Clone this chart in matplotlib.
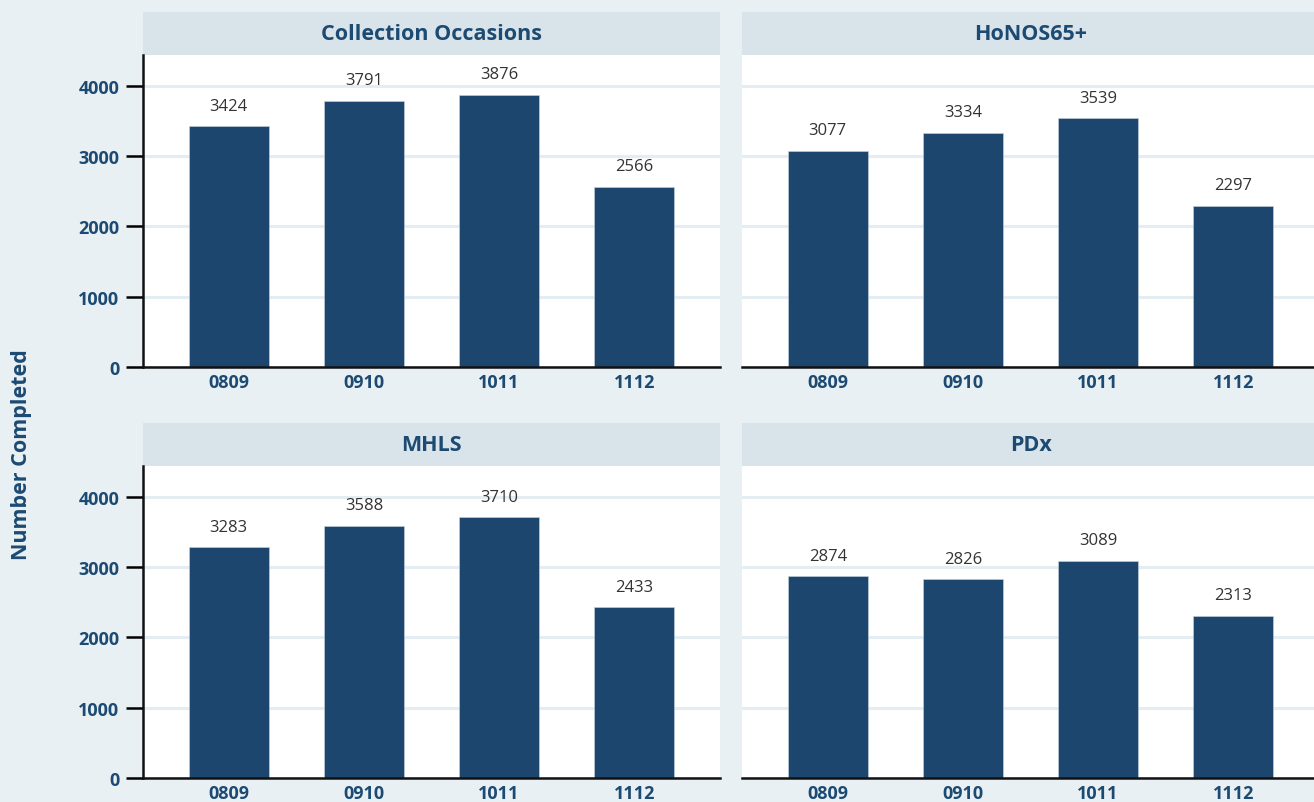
import matplotlib
matplotlib.use("Agg")
import matplotlib.pyplot as plt
from matplotlib.patches import Rectangle
import numpy as np

plt.rcParams["font.family"] = ["Open Sans", "DejaVu Sans"]

years = ["0809", "0910", "1011", "1112"]
panels = ["Collection Occasions", "HoNOS65+", "MHLS", "PDx"]
collection = [3424, 3791, 3876, 2566]
honos65 = [3077, 3334, 3539, 2297]
mhls = [3283, 3588, 3710, 2433]
pdx = [2874, 2826, 3089, 2313]
yticks = [0, 1000, 2000, 3000, 4000]

BG = "#e8f0f3"
HEAD = "#d8e4ea"
BAR = "#1c466e"
NAVY = "#1c4a72"
GRID = "#e4edf1"

fig = plt.figure(figsize=(13.14, 8.03), dpi=100, facecolor=BG)
W, H = 1314, 803

# axes boxes in pixels: left, right, top, bottom (right column runs off the edge)
boxes = [
    (143, 720, 56, 368, True),
    (742, 1319, 56, 368, False),
    (143, 720, 467, 779, True),
    (742, 1319, 467, 779, False),
]
series = [collection, honos65, mhls, pdx]

x = np.arange(len(years))
for (l, r, t, b, left), name, vals in zip(boxes, panels, series):
    ax = fig.add_axes([l / W, 1 - b / H, (r - l) / W, (b - t) / H])
    ax.set_facecolor("white")
    ax.set_ylim(0, 4441)
    ax.set_xlim(-0.635, 3.635)
    ax.set_axisbelow(True)
    ax.grid(True, axis="y", color=GRID, lw=2.2)
    ax.bar(x, vals, 0.59, color=BAR, edgecolor="#c9d6e0", linewidth=0.4)
    for xi, v in zip(x, vals):
        ax.annotate(f"{v}", (xi, v), xytext=(0, 9), textcoords="offset points",
                    ha="center", va="bottom", fontsize=12, color="#333333")
    ax.set_xticks(x)
    ax.set_xticklabels(years, fontsize=13, fontweight="bold", color=NAVY)
    ax.tick_params(axis="x", length=0, pad=4)
    ax.set_yticks(yticks)
    for s in ["top", "right"]:
        ax.spines[s].set_visible(False)
    ax.spines["bottom"].set_linewidth(1.8)
    ax.spines["bottom"].set_color("#111111")
    if left:
        ax.set_yticklabels([str(v) for v in yticks], fontsize=13,
                           fontweight="bold", color=NAVY)
        ax.tick_params(axis="y", length=12, width=1.8, pad=5)
        ax.spines["left"].set_linewidth(1.8)
        ax.spines["left"].set_color("#111111")
    else:
        ax.spines["left"].set_visible(False)
        ax.tick_params(axis="y", length=0, labelleft=False)
    hh = 43 / (b - t)
    ax.add_patch(Rectangle((0, 1), 1, hh, transform=ax.transAxes,
                           facecolor=HEAD, edgecolor="none", clip_on=False))
    ax.text(0.5, 1 + hh / 2, name, transform=ax.transAxes, ha="center",
            va="center", fontsize=15.5, fontweight="bold", color=NAVY)

fig.text(22 / W, 1 - 455 / H, "Number Completed", rotation=90, ha="center",
         va="center", fontsize=15.5, fontweight="bold", color=NAVY)

fig.savefig("out.png", dpi=100, facecolor=BG)
